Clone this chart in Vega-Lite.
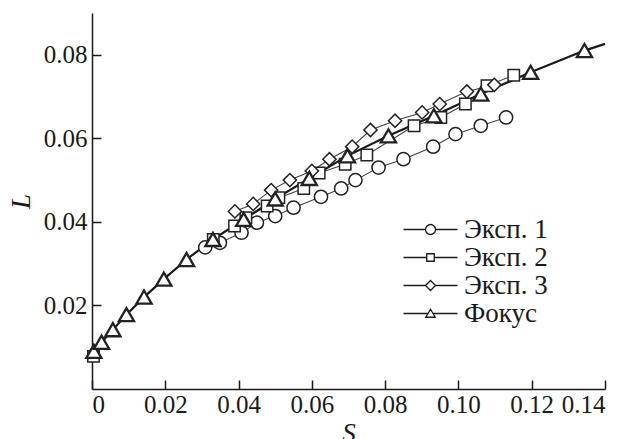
{
  "$schema": "https://vega.github.io/schema/vega-lite/v6.json",
  "width": 513,
  "height": 376,
  "autosize": {"type": "none"},
  "padding": {"left": 92, "top": 13, "right": 21, "bottom": 50},
  "background": "white",
  "config": {
    "view": {"stroke": null},
    "font": "Liberation Serif",
    "axis": {
      "grid": false,
      "domainColor": "#1a1a1a",
      "domainWidth": 1.5,
      "tickColor": "#1a1a1a",
      "tickWidth": 1.5,
      "tickSize": -9,
      "labelFont": "serif",
      "labelFontSize": 25,
      "labelColor": "#1a1a1a",
      "titleFont": "Liberation Serif",
      "titleFontSize": 27,
      "titleFontStyle": "italic",
      "titleFontWeight": "normal",
      "titleColor": "#1a1a1a"
    },
    "legend": {"labelFont": "Times New Roman"}
  },
  "datasets": {
    "pts": [
      {"series": "Эксп. 1", "S": 0.0309, "L": 0.0339},
      {"series": "Эксп. 1", "S": 0.0349, "L": 0.0350},
      {"series": "Эксп. 1", "S": 0.0408, "L": 0.0374},
      {"series": "Эксп. 1", "S": 0.0450, "L": 0.0398},
      {"series": "Эксп. 1", "S": 0.0500, "L": 0.0414},
      {"series": "Эксп. 1", "S": 0.0550, "L": 0.0434},
      {"series": "Эксп. 1", "S": 0.0625, "L": 0.0460},
      {"series": "Эксп. 1", "S": 0.0680, "L": 0.0480},
      {"series": "Эксп. 1", "S": 0.0719, "L": 0.0500},
      {"series": "Эксп. 1", "S": 0.0782, "L": 0.0530},
      {"series": "Эксп. 1", "S": 0.0850, "L": 0.0550},
      {"series": "Эксп. 1", "S": 0.0931, "L": 0.0580},
      {"series": "Эксп. 1", "S": 0.0992, "L": 0.0610},
      {"series": "Эксп. 1", "S": 0.1061, "L": 0.0630},
      {"series": "Эксп. 1", "S": 0.1130, "L": 0.0650},
      {"series": "Эксп. 2", "S": 0.0004, "L": 0.0078},
      {"series": "Эксп. 2", "S": 0.0331, "L": 0.0358},
      {"series": "Эксп. 2", "S": 0.0389, "L": 0.0390},
      {"series": "Эксп. 2", "S": 0.0420, "L": 0.0410},
      {"series": "Эксп. 2", "S": 0.0478, "L": 0.0438},
      {"series": "Эксп. 2", "S": 0.0510, "L": 0.0458},
      {"series": "Эксп. 2", "S": 0.0578, "L": 0.0480},
      {"series": "Эксп. 2", "S": 0.0620, "L": 0.0517},
      {"series": "Эксп. 2", "S": 0.0691, "L": 0.0538},
      {"series": "Эксп. 2", "S": 0.0750, "L": 0.0560},
      {"series": "Эксп. 2", "S": 0.0879, "L": 0.0630},
      {"series": "Эксп. 2", "S": 0.0952, "L": 0.0650},
      {"series": "Эксп. 2", "S": 0.1019, "L": 0.0682},
      {"series": "Эксп. 2", "S": 0.1078, "L": 0.0726},
      {"series": "Эксп. 2", "S": 0.1151, "L": 0.0751},
      {"series": "Эксп. 3", "S": 0.0390, "L": 0.0425},
      {"series": "Эксп. 3", "S": 0.0440, "L": 0.0443},
      {"series": "Эксп. 3", "S": 0.0489, "L": 0.0476},
      {"series": "Эксп. 3", "S": 0.0540, "L": 0.0500},
      {"series": "Эксп. 3", "S": 0.0600, "L": 0.0522},
      {"series": "Эксп. 3", "S": 0.0648, "L": 0.0550},
      {"series": "Эксп. 3", "S": 0.0710, "L": 0.0580},
      {"series": "Эксп. 3", "S": 0.0760, "L": 0.0620},
      {"series": "Эксп. 3", "S": 0.0827, "L": 0.0642},
      {"series": "Эксп. 3", "S": 0.0901, "L": 0.0662},
      {"series": "Эксп. 3", "S": 0.0949, "L": 0.0682},
      {"series": "Эксп. 3", "S": 0.1023, "L": 0.0712},
      {"series": "Эксп. 3", "S": 0.1098, "L": 0.0728},
      {"series": "Фокус", "S": 0.0005, "L": 0.0090},
      {"series": "Фокус", "S": 0.0026, "L": 0.0112},
      {"series": "Фокус", "S": 0.0057, "L": 0.0142},
      {"series": "Фокус", "S": 0.0094, "L": 0.0178},
      {"series": "Фокус", "S": 0.0142, "L": 0.0220},
      {"series": "Фокус", "S": 0.0196, "L": 0.0263},
      {"series": "Фокус", "S": 0.0258, "L": 0.0310},
      {"series": "Фокус", "S": 0.0330, "L": 0.0358},
      {"series": "Фокус", "S": 0.0414, "L": 0.0406},
      {"series": "Фокус", "S": 0.0500, "L": 0.0455},
      {"series": "Фокус", "S": 0.0593, "L": 0.0504},
      {"series": "Фокус", "S": 0.0697, "L": 0.0558},
      {"series": "Фокус", "S": 0.0809, "L": 0.0606},
      {"series": "Фокус", "S": 0.0933, "L": 0.0654},
      {"series": "Фокус", "S": 0.1061, "L": 0.0706},
      {"series": "Фокус", "S": 0.1197, "L": 0.0758},
      {"series": "Фокус", "S": 0.1344, "L": 0.0810}
    ],
    "expLines": [
      {"series": "Эксп. 1", "S": 0.0309, "L": 0.0339},
      {"series": "Эксп. 1", "S": 0.0349, "L": 0.0350},
      {"series": "Эксп. 1", "S": 0.0408, "L": 0.0374},
      {"series": "Эксп. 1", "S": 0.0450, "L": 0.0398},
      {"series": "Эксп. 1", "S": 0.0500, "L": 0.0414},
      {"series": "Эксп. 1", "S": 0.0550, "L": 0.0434},
      {"series": "Эксп. 1", "S": 0.0625, "L": 0.0460},
      {"series": "Эксп. 1", "S": 0.0680, "L": 0.0480},
      {"series": "Эксп. 1", "S": 0.0719, "L": 0.0500},
      {"series": "Эксп. 1", "S": 0.0782, "L": 0.0530},
      {"series": "Эксп. 1", "S": 0.0850, "L": 0.0550},
      {"series": "Эксп. 1", "S": 0.0931, "L": 0.0580},
      {"series": "Эксп. 1", "S": 0.0992, "L": 0.0610},
      {"series": "Эксп. 1", "S": 0.1061, "L": 0.0630},
      {"series": "Эксп. 1", "S": 0.1130, "L": 0.0650},
      {"series": "Эксп. 2", "S": 0.0331, "L": 0.0358},
      {"series": "Эксп. 2", "S": 0.0389, "L": 0.0390},
      {"series": "Эксп. 2", "S": 0.0420, "L": 0.0410},
      {"series": "Эксп. 2", "S": 0.0478, "L": 0.0438},
      {"series": "Эксп. 2", "S": 0.0510, "L": 0.0458},
      {"series": "Эксп. 2", "S": 0.0578, "L": 0.0480},
      {"series": "Эксп. 2", "S": 0.0620, "L": 0.0517},
      {"series": "Эксп. 2", "S": 0.0691, "L": 0.0538},
      {"series": "Эксп. 2", "S": 0.0750, "L": 0.0560},
      {"series": "Эксп. 2", "S": 0.0879, "L": 0.0630},
      {"series": "Эксп. 2", "S": 0.0952, "L": 0.0650},
      {"series": "Эксп. 2", "S": 0.1019, "L": 0.0682},
      {"series": "Эксп. 2", "S": 0.1078, "L": 0.0726},
      {"series": "Эксп. 2", "S": 0.1151, "L": 0.0751},
      {"series": "Эксп. 3", "S": 0.0390, "L": 0.0425},
      {"series": "Эксп. 3", "S": 0.0440, "L": 0.0443},
      {"series": "Эксп. 3", "S": 0.0489, "L": 0.0476},
      {"series": "Эксп. 3", "S": 0.0540, "L": 0.0500},
      {"series": "Эксп. 3", "S": 0.0600, "L": 0.0522},
      {"series": "Эксп. 3", "S": 0.0648, "L": 0.0550},
      {"series": "Эксп. 3", "S": 0.0710, "L": 0.0580},
      {"series": "Эксп. 3", "S": 0.0760, "L": 0.0620},
      {"series": "Эксп. 3", "S": 0.0827, "L": 0.0642},
      {"series": "Эксп. 3", "S": 0.0901, "L": 0.0662},
      {"series": "Эксп. 3", "S": 0.0949, "L": 0.0682},
      {"series": "Эксп. 3", "S": 0.1023, "L": 0.0712},
      {"series": "Эксп. 3", "S": 0.1098, "L": 0.0728}
    ],
    "focusCurve": [
      {"S": 0.0005, "L": 0.0090},
      {"S": 0.0026, "L": 0.0112},
      {"S": 0.0057, "L": 0.0142},
      {"S": 0.0094, "L": 0.0178},
      {"S": 0.0142, "L": 0.0220},
      {"S": 0.0196, "L": 0.0263},
      {"S": 0.0258, "L": 0.0310},
      {"S": 0.0330, "L": 0.0358},
      {"S": 0.0414, "L": 0.0406},
      {"S": 0.0500, "L": 0.0455},
      {"S": 0.0593, "L": 0.0504},
      {"S": 0.0697, "L": 0.0558},
      {"S": 0.0809, "L": 0.0606},
      {"S": 0.0933, "L": 0.0654},
      {"S": 0.1061, "L": 0.0706},
      {"S": 0.1197, "L": 0.0758},
      {"S": 0.1344, "L": 0.0810},
      {"S": 0.1400, "L": 0.0826}
    ]
  },
  "encoding": {
    "x": {
      "field": "S",
      "type": "quantitative",
      "title": "S",
      "scale": {"domain": [0, 0.14], "nice": false, "zero": false},
      "axis": {
        "values": [0, 0.02, 0.04, 0.06, 0.08, 0.1, 0.12, 0.14],
        "labelExpr": "datum.value == 0 ? '0' : format(datum.value, '.2f')",
        "labelPadding": 12,
        "titlePadding": 3
      }
    },
    "y": {
      "field": "L",
      "type": "quantitative",
      "title": "L",
      "scale": {"domain": [0, 0.09], "nice": false, "zero": false},
      "axis": {
        "values": [0.02, 0.04, 0.06, 0.08],
        "format": ".2f",
        "labelPadding": 14,
        "titlePadding": 8
      }
    }
  },
  "layer": [
    {
      "data": {"name": "expLines"},
      "mark": {"type": "line", "stroke": "#444444", "strokeWidth": 1.1},
      "encoding": {"detail": {"field": "series", "type": "nominal"}}
    },
    {
      "data": {"name": "focusCurve"},
      "mark": {"type": "line", "stroke": "#1a1a1a", "strokeWidth": 2.2}
    },
    {
      "data": {"name": "pts"},
      "transform": [{"filter": "datum.S < 0"}],
      "mark": {"type": "point", "filled": true, "fill": "white", "stroke": "#1a1a1a", "size": 100, "opacity": 1, "fillOpacity": 1},
      "encoding": {
        "shape": {
          "field": "series",
          "type": "nominal",
          "sort": null,
          "scale": {
            "domain": ["Эксп. 1", "Эксп. 2", "Эксп. 3", "Фокус"],
            "range": [
              "M-5.4,0H-1M1,0H5.4M-1,0A1,1 0 1,0 1,0A1,1 0 1,0 -1,0Z",
              "M-5.4,0H-0.75M0.75,0H5.4M-0.75,-0.75H0.75V0.75H-0.75Z",
              "M-5.4,0H-1M1,0H5.4M-1,0L0,-1L1,0L0,1Z",
              "M-5.4,0H-0.5M0.5,0H5.4M0,-0.85L0.95,0.75H-0.95Z"
            ]
          },
          "legend": {
            "orient": "none",
            "legendX": 325,
            "legendY": 203,
            "title": null,
            "padding": 0,
            "labelFont": "Times New Roman",
            "labelFontSize": 27,
            "labelColor": "#1a1a1a",
            "labelOffset": 20,
            "rowPadding": 0,
            "symbolSize": 100,
            "symbolOpacity": 1
          }
        },
        "strokeWidth": {
          "field": "series",
          "type": "nominal",
          "sort": null,
          "scale": {
            "domain": ["Эксп. 1", "Эксп. 2", "Эксп. 3", "Фокус"],
            "range": [1.3, 1.3, 1.3, 2.3]
          },
          "legend": {
            "orient": "none",
            "legendX": 325,
            "legendY": 203,
            "title": null,
            "padding": 0,
            "labelFont": "Times New Roman",
            "labelFontSize": 27,
            "labelColor": "#1a1a1a",
            "labelOffset": 20,
            "rowPadding": 0,
            "symbolSize": 100,
            "symbolOpacity": 1
          }
        }
      }
    },
    {
      "data": {"name": "pts"},
      "mark": {"type": "point", "filled": true, "fill": "white", "stroke": "#222222", "opacity": 1, "fillOpacity": 1},
      "encoding": {
        "shape": {
          "condition": [
            {"test": "datum.series === 'Эксп. 1'", "value": "circle"},
            {"test": "datum.series === 'Эксп. 2'", "value": "square"},
            {"test": "datum.series === 'Эксп. 3'", "value": "diamond"}
          ],
          "value": "triangle-up"
        },
        "size": {
          "condition": [
            {"test": "datum.series === 'Эксп. 2'", "value": 130},
            {"test": "datum.series === 'Фокус'", "value": 230}
          ],
          "value": 175
        },
        "strokeWidth": {
          "condition": {"test": "datum.series === 'Фокус'", "value": 2.3},
          "value": 1.5
        }
      }
    }
  ]
}
